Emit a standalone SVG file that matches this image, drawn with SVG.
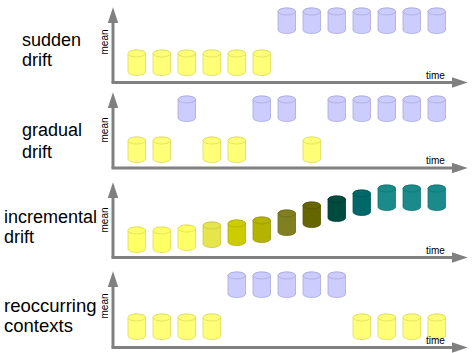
<svg xmlns="http://www.w3.org/2000/svg" xmlns:xlink="http://www.w3.org/1999/xlink" width="472" height="353" viewBox="0 0 472 353">
<style>
.lbl{font-family:"Liberation Sans",Arial,sans-serif;font-size:18px;fill:#000}
.ax{font-family:"Liberation Sans",Arial,sans-serif;font-size:10px;fill:#000}
.axis{stroke:#808080;stroke-width:3;fill:none}
.y{fill:#ffff77;stroke:#dcdc5c;stroke-width:0.8}
.b{fill:#ccccff;stroke:#a9a9dc;stroke-width:0.8}
.c0{fill:#ffff66;stroke:#dddd55;stroke-width:0.8}
.c3{fill:#e6e64c;stroke:#c8c840;stroke-width:0.8}
.c4{fill:#cccc00;stroke:#b0b000;stroke-width:0.8}
.c5{fill:#b3b300;stroke:#999900;stroke-width:0.8}
.c6{fill:#808020;stroke:#6a6a18;stroke-width:0.8}
.c7{fill:#666600;stroke:#555500;stroke-width:0.8}
.c8{fill:#004b40;stroke:#003a32;stroke-width:0.8}
.c9{fill:#006868;stroke:#005555;stroke-width:0.8}
.c10{fill:#1a8a8a;stroke:#157575;stroke-width:0.8}
</style>
<defs>
<symbol id="cyl" overflow="visible">
<path d="M0,3.5 V22 A8.75,3.5 0 0 0 17.5,22 V3.5 A8.75,3.5 0 0 0 0,3.5 Z"/>
<ellipse cx="8.75" cy="3.5" rx="8.75" ry="3.5"/>
</symbol>
<marker id="ah" markerUnits="userSpaceOnUse" markerWidth="16" markerHeight="12" viewBox="0 0 15 10" refX="5" refY="5" orient="auto">
<path d="M0,0 L15,5 L0,10 Z" fill="#808080"/>
</marker>
</defs>

<g id="axes">
<path class="axis" d="M113,82.5 V18" marker-end="url(#ah)"/>
<path class="axis" d="M111.5,82.5 H457" marker-end="url(#ah)"/>
<path class="axis" d="M113,168 V103" marker-end="url(#ah)"/>
<path class="axis" d="M111.5,168 H457" marker-end="url(#ah)"/>
<path class="axis" d="M113,257.5 V193" marker-end="url(#ah)"/>
<path class="axis" d="M111.5,257.5 H457" marker-end="url(#ah)"/>
<path class="axis" d="M113,347.5 V282" marker-end="url(#ah)"/>
<path class="axis" d="M111.5,347.5 H457" marker-end="url(#ah)"/>
</g>

<g id="sudden-drift">
<text class="lbl" x="22" y="46">sudden</text>
<text class="lbl" x="22" y="66">drift</text>
<text class="ax" transform="translate(108,42) rotate(-90)" text-anchor="middle">mean</text>
<text class="ax" x="426" y="79">time</text>
<use xlink:href="#cyl" class="y" x="128" y="50"/>
<use xlink:href="#cyl" class="y" x="153" y="50"/>
<use xlink:href="#cyl" class="y" x="178" y="50"/>
<use xlink:href="#cyl" class="y" x="203" y="50"/>
<use xlink:href="#cyl" class="y" x="228" y="50"/>
<use xlink:href="#cyl" class="y" x="253" y="50"/>
<use xlink:href="#cyl" class="b" x="278" y="8"/>
<use xlink:href="#cyl" class="b" x="303" y="8"/>
<use xlink:href="#cyl" class="b" x="328" y="8"/>
<use xlink:href="#cyl" class="b" x="353" y="8"/>
<use xlink:href="#cyl" class="b" x="378" y="8"/>
<use xlink:href="#cyl" class="b" x="403" y="8"/>
<use xlink:href="#cyl" class="b" x="428" y="8"/>
</g>

<g id="gradual-drift">
<text class="lbl" x="22" y="136">gradual</text>
<text class="lbl" x="22" y="158">drift</text>
<text class="ax" transform="translate(108,130) rotate(-90)" text-anchor="middle">mean</text>
<text class="ax" x="426" y="164">time</text>
<use xlink:href="#cyl" class="y" x="128" y="137"/>
<use xlink:href="#cyl" class="y" x="153" y="137"/>
<use xlink:href="#cyl" class="b" x="178" y="96"/>
<use xlink:href="#cyl" class="y" x="203" y="137"/>
<use xlink:href="#cyl" class="y" x="228" y="137"/>
<use xlink:href="#cyl" class="b" x="253" y="96"/>
<use xlink:href="#cyl" class="b" x="278" y="96"/>
<use xlink:href="#cyl" class="y" x="303" y="137"/>
<use xlink:href="#cyl" class="b" x="328" y="96"/>
<use xlink:href="#cyl" class="b" x="353" y="96"/>
<use xlink:href="#cyl" class="b" x="378" y="96"/>
<use xlink:href="#cyl" class="b" x="403" y="96"/>
<use xlink:href="#cyl" class="b" x="428" y="96"/>
</g>

<g id="incremental-drift">
<text class="lbl" x="4" y="223">incremental</text>
<text class="lbl" x="4" y="243">drift</text>
<text class="ax" transform="translate(108,220) rotate(-90)" text-anchor="middle">mean</text>
<text class="ax" x="426" y="254">time</text>
<use xlink:href="#cyl" class="c0" x="128" y="227"/>
<use xlink:href="#cyl" class="c0" x="153" y="227"/>
<use xlink:href="#cyl" class="c0" x="178" y="225"/>
<use xlink:href="#cyl" class="c3" x="203" y="222"/>
<use xlink:href="#cyl" class="c4" x="228" y="220"/>
<use xlink:href="#cyl" class="c5" x="253" y="217"/>
<use xlink:href="#cyl" class="c6" x="278" y="210"/>
<use xlink:href="#cyl" class="c7" x="303" y="202"/>
<use xlink:href="#cyl" class="c8" x="328" y="196"/>
<use xlink:href="#cyl" class="c9" x="353" y="190"/>
<use xlink:href="#cyl" class="c10" x="378" y="185"/>
<use xlink:href="#cyl" class="c10" x="403" y="185"/>
<use xlink:href="#cyl" class="c10" x="428" y="185"/>
</g>

<g id="reoccurring-contexts">
<text class="lbl" x="4" y="312" style="font-size:18.5px">reoccurring</text>
<text class="lbl" x="4" y="332" style="font-size:18.5px">contexts</text>
<text class="ax" transform="translate(108,306) rotate(-90)" text-anchor="middle">mean</text>
<use xlink:href="#cyl" class="y" x="128" y="314"/>
<use xlink:href="#cyl" class="y" x="153" y="314"/>
<use xlink:href="#cyl" class="y" x="178" y="314"/>
<use xlink:href="#cyl" class="y" x="203" y="314"/>
<use xlink:href="#cyl" class="b" x="228" y="272"/>
<use xlink:href="#cyl" class="b" x="253" y="272"/>
<use xlink:href="#cyl" class="b" x="278" y="272"/>
<use xlink:href="#cyl" class="b" x="303" y="272"/>
<use xlink:href="#cyl" class="b" x="328" y="272"/>
<use xlink:href="#cyl" class="y" x="353" y="314"/>
<use xlink:href="#cyl" class="y" x="378" y="314"/>
<use xlink:href="#cyl" class="y" x="403" y="314"/>
<use xlink:href="#cyl" class="y" x="428" y="314"/>
<text class="ax" x="426" y="344">time</text>
</g>
</svg>
